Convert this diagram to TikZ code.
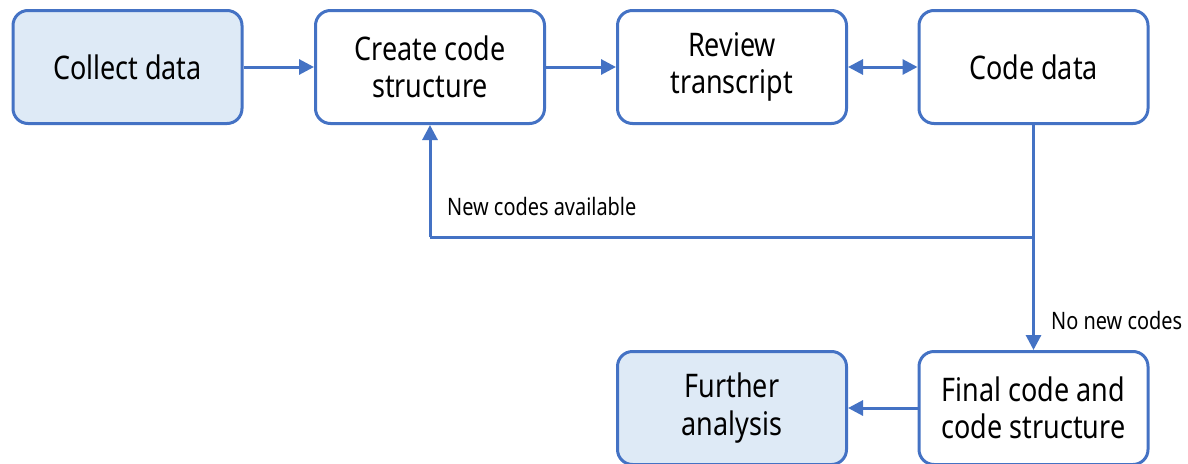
\documentclass[tikz,border=0pt]{standalone}
\usepackage{fontspec}
\setmainfont[FakeStretch=0.83]{Noto Sans}
\usetikzlibrary{arrows.meta}
\definecolor{edgeblue}{HTML}{4472C4}
\definecolor{paleblue}{HTML}{DEEAF6}
\tikzset{
  stepbox/.style={draw=edgeblue, line width=3pt, rounded corners=15pt, fill=white,
    minimum width=229pt, minimum height=113pt, align=center, inner sep=0pt,
    font=\fontsize{32.5}{37.5}\selectfont, text=black},
  shaded/.style={stepbox, fill=paleblue},
  flow/.style={draw=edgeblue, line width=3pt, -{Triangle[length=15pt,width=15pt]}},
  note/.style={font=\fontsize{24}{28}\selectfont, text=black, inner sep=0pt}
}
\begin{document}
\begin{tikzpicture}[x=1pt,y=-1pt]
  \clip (0,0) rectangle (1188,463);
  \fill[white] (0,0) rectangle (1188,463);
  \node[shaded]  (collect) at (127.5,67) {Collect data};
  \node[stepbox] (create)  at (430,67)   {Create code\\structure};
  \node[stepbox] (review)  at (732,67)   {Review\\transcript};
  \node[stepbox] (code)    at (1033.5,67){Code data};
  \node[stepbox] (final)   at (1033.5,408){Final code and\\code structure};
  \node[shaded]  (further) at (732,408)  {Further\\analysis};

  \coordinate (split) at (1033.5,237);
  \coordinate (back)  at (430,237);

  \draw[flow] (collect) -- (create);
  \draw[flow] (create) -- (review);
  \draw[flow, {Triangle[length=15pt,width=15pt]}-{Triangle[length=15pt,width=15pt]}] (review) -- (code);
  \draw[flow] (code) -- (final);
  \draw[draw=edgeblue, line width=3pt] (split) -- (back);
  \draw[flow] (back) -- (create);
  \draw[flow] (final) -- (further);

  \node[note, anchor=west] (avail) at (447,206) {New codes available};
  \node[note, anchor=west] (nonew) at (1051,320) {No new codes};
\end{tikzpicture}
\end{document}
